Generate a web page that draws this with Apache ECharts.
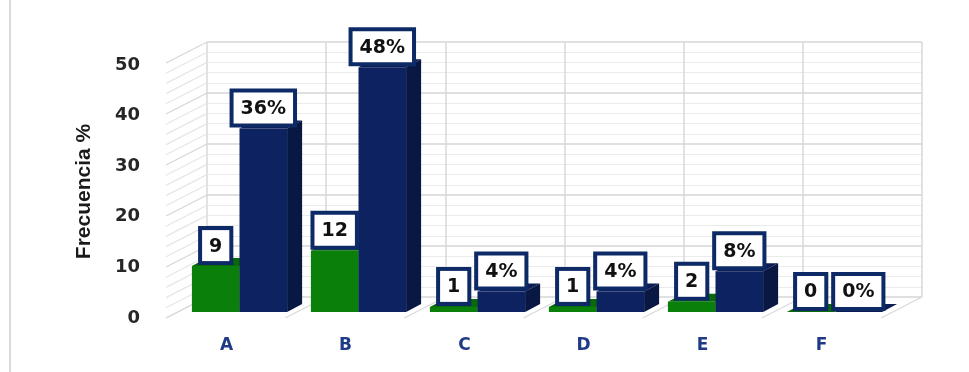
<!DOCTYPE html>
<html>
<head>
<meta charset="utf-8">
<script src="https://cdn.jsdelivr.net/npm/echarts@6/dist/echarts.min.js"></script>
<style>
  html, body { margin: 0; padding: 0; background: #fff; }
  #chart { width: 969px; height: 372px; }
</style>
</head>
<body>
<div id="chart"></div>
<script>
// Categories and the two series (frequency count and percentage)
const categories = ['A', 'B', 'C', 'D', 'E', 'F'];
const frecuencia = [9, 12, 1, 1, 2, 0];
const porcentaje = [36, 48, 4, 4, 8, 0];
const yMin = 0, yMax = 50, yStep = 10;

// 3D look: depth offset of each bar and of the chart walls
const BAR_DX = 15, BAR_DY = -8;
const WALL_DX = -41, WALL_DY = 21;

const green = { front: '#0a7f0a', side: '#075a07', top: '#086a08' };
const navy = { front: '#0d2361', side: '#081843', top: '#0b1d52' };
const labelBorder = '#0d2a66';

function barRenderer(colors, dir, fmt) {
  return function (params, api) {
    const cat = api.value(0), v = api.value(1);
    const topPt = api.coord([cat, v]);
    const basePt = api.coord([cat, 0]);
    const band = api.size([1, 0])[0];
    const w = band * 0.4;
    const l = dir < 0 ? topPt[0] - w : topPt[0];
    const r = l + w;
    const yT = topPt[1], yB = basePt[1];
    return {
      type: 'group',
      children: [
        { type: 'polygon', shape: { points: [[r, yB], [r, yT], [r + BAR_DX, yT + BAR_DY], [r + BAR_DX, yB + BAR_DY]] },
          style: { fill: colors.side } },
        { type: 'polygon', shape: { points: [[l, yT], [r, yT], [r + BAR_DX, yT + BAR_DY], [l + BAR_DX, yT + BAR_DY]] },
          style: { fill: colors.top } },
        { type: 'rect', shape: { x: l, y: yT, width: w, height: yB - yT },
          style: { fill: colors.front } },
        { type: 'text', z2: 10,
          style: {
            text: fmt(v), x: (l + r) / 2, y: yT - 5,
            align: 'center', verticalAlign: 'bottom',
            fill: '#111', font: 'bold 19px "DejaVu Sans"',
            backgroundColor: '#fff', borderColor: labelBorder, borderWidth: 4,
            padding: [7, 7, 5, 7]
          } }
      ]
    };
  };
}

// Left wall diagonals at every minor step, and floor diagonals at category boundaries
const wallSteps = [];
for (let v = yMin; v <= yMax; v += 2) wallSteps.push([0, v]);

function wallRenderer(params, api) {
  const cs = params.coordSys;
  const y = api.coord([0, api.value(1)])[1];
  const x = cs.x;
  return { type: 'line', shape: { x1: x, y1: y, x2: x + WALL_DX, y2: y + WALL_DY },
    style: { stroke: api.value(1) % yStep === 0 ? '#d6d6d6' : '#e6e6e6', lineWidth: 1.2 } };
}
function floorRenderer(params, api) {
  const cs = params.coordSys;
  const band = cs.width / categories.length;
  const x = cs.x + api.value(0) * band;
  const y = cs.y + cs.height;
  return { type: 'line', shape: { x1: x, y1: y, x2: x + WALL_DX, y2: y + WALL_DY },
    style: { stroke: '#d9d9d9', lineWidth: 1.2 } };
}
const floorSteps = categories.map((c, i) => [i, 0]).concat([[categories.length, 0]]);

const chart = echarts.init(document.getElementById('chart'), null, { renderer: 'canvas' });
chart.setOption({
  animation: false,
  backgroundColor: '#fff',
  graphic: [{ type: 'line', shape: { x1: 10, y1: 0, x2: 10, y2: 372 }, style: { stroke: '#d9d9d9', lineWidth: 2 } }],
  grid: [
    { left: 180, right: 75, top: 57, bottom: 60 },   // bar plane
    { left: 207, right: 47, top: 42, bottom: 75 },   // back wall
    { left: 167, right: 88, top: 65, bottom: 54 }    // front edge (axis labels)
  ],
  xAxis: [
    { gridIndex: 0, type: 'category', data: categories, show: false },
    { gridIndex: 1, type: 'category', data: categories, boundaryGap: true,
      axisLine: { show: false }, axisTick: { show: false }, axisLabel: { show: false },
      splitLine: { show: true, interval: 0, lineStyle: { color: '#d9d9d9', width: 1.5 } } },
    { gridIndex: 2, type: 'category', data: categories,
      axisLine: { show: false }, axisTick: { show: false },
      axisLabel: { color: '#1f3a86', fontFamily: 'DejaVu Sans', fontWeight: 'bold', fontSize: 17, margin: 19 } }
  ],
  yAxis: [
    { gridIndex: 0, type: 'value', min: yMin, max: yMax, interval: yStep, show: false },
    { gridIndex: 1, type: 'value', min: yMin, max: yMax, interval: yStep,
      axisLine: { show: false }, axisTick: { show: false }, axisLabel: { show: false },
      splitLine: { show: true, lineStyle: { color: '#d6d6d6', width: 1.5 } },
      minorTick: { show: false, splitNumber: 5 },
      minorSplitLine: { show: true, lineStyle: { color: '#ebebeb', width: 1 } } },
    { gridIndex: 2, type: 'value', min: yMin, max: yMax, interval: yStep,
      axisLine: { show: false }, axisTick: { show: false }, splitLine: { show: false },
      axisLabel: { color: '#262626', fontFamily: 'DejaVu Sans', fontWeight: 'bold', fontSize: 18, margin: 27 },
      name: 'Frecuencia %', nameLocation: 'middle', nameRotate: 90, nameGap: 72,
      nameTextStyle: { color: '#1a1a1a', fontFamily: 'Liberation Sans', fontWeight: 'bold', fontSize: 21 } }
  ],
  series: [
    { type: 'custom', xAxisIndex: 1, yAxisIndex: 1, data: wallSteps, renderItem: wallRenderer, silent: true, z: 1 },
    { type: 'custom', xAxisIndex: 1, yAxisIndex: 1, data: floorSteps, renderItem: floorRenderer, silent: true, z: 1 },
    { type: 'custom', name: 'Frecuencia', xAxisIndex: 0, yAxisIndex: 0, z: 5,
      data: frecuencia.map((v, i) => [i, v]),
      renderItem: barRenderer(green, -1, v => String(v)) },
    { type: 'custom', name: 'Porcentaje', xAxisIndex: 0, yAxisIndex: 0, z: 6,
      data: porcentaje.map((v, i) => [i, v]),
      renderItem: barRenderer(navy, 1, v => v + '%') }
  ]
});
</script>
</body>
</html>
